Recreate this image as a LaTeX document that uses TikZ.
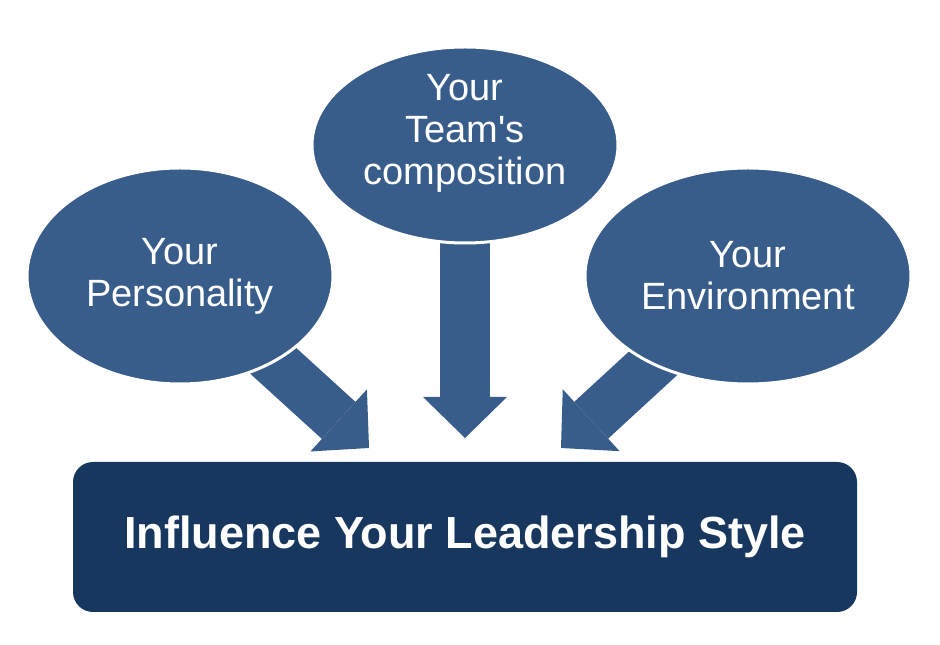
\documentclass[tikz,border=0pt]{standalone}
\usepackage{fontspec}
\setmainfont{Liberation Sans}
\usetikzlibrary{shapes.geometric,arrows.meta,backgrounds}
\definecolor{bubblefill}{HTML}{385D8A}
\definecolor{navyfill}{HTML}{17375E}

\begin{document}
\begin{tikzpicture}[x=1pt,y=1pt,
  bubble/.style={ellipse,fill=bubblefill,draw=white,line width=3pt,text=white,align=center,inner sep=0pt,font=\fontsize{38}{42}\selectfont},
  fatarrow/.style={draw=bubblefill,line width=50pt,-{Triangle[length=41pt,width=84pt,line width=0pt]}}
]
\useasboundingbox (0,0) rectangle (940,645);
\node[bubble,minimum width=306pt,minimum height=196pt] (team) at (465,500) {\raisebox{5pt}[0pt][0pt]{\begin{tabular}{@{}c@{}}Your\\Team\textquotesingle s\\composition\end{tabular}}};
\node[bubble,minimum width=306pt,minimum height=216pt] (pers) at (180,369) {Your\\Personality};
\node[bubble,minimum width=326pt,minimum height=216pt] (env) at (748,369) {Your\\Environment};
\node[fill=navyfill,rounded corners=20pt,minimum width=784pt,minimum height=150pt,text=white,font=\bfseries\fontsize{45}{50}\selectfont] (style) at (465,108) {Influence Your Leadership Style};

% arrow tips sit just above the box
\coordinate (tipl) at (369,197);
\coordinate (tipc) at (465,207);
\coordinate (tipr) at (561,197);
\begin{scope}[on background layer]
\draw[fatarrow] (pers.center) -- (tipl);
\draw[fatarrow] (team.center) -- (tipc);
\draw[fatarrow] (env.center) -- (tipr);
\end{scope}
\end{tikzpicture}
\end{document}
